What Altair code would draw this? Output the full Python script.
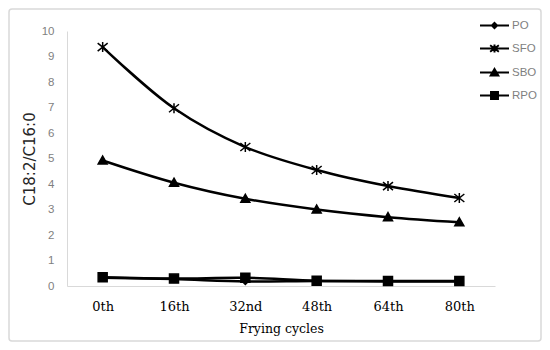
import altair as alt
import pandas as pd

cycles = ["0th", "16th", "32nd", "48th", "64th", "80th"]
series = ["PO", "SFO", "SBO", "RPO"]
po = [0.32, 0.27, 0.18, 0.20, 0.18, 0.18]
sfo = [9.37, 6.97, 5.45, 4.55, 3.92, 3.45]
sbo = [4.92, 4.05, 3.42, 3.00, 2.70, 2.50]
rpo = [0.34, 0.29, 0.32, 0.21, 0.20, 0.20]

rows = []
for name, vals in zip(series, [po, sfo, sbo, rpo]):
    for c, v in zip(cycles, vals):
        rows.append({"cycle": c, "series": name, "value": v})
df = pd.DataFrame(rows)

marker_paths = [
    "M0,-0.6L0.6,0L0,0.6L-0.6,0Z",
    "M-1,-0.8L1,0.8M-1,0.8L1,-0.8M0,-1L0,1",
    "M0,-0.9L0.9,0.7L-0.9,0.7Z",
    "M-0.9,-0.9H0.9V0.9H-0.9Z",
]
legend_paths = [
    "M-1,0H1M0,-0.18L0.18,0L0,0.18L-0.18,0ZM-0.1,-0.08H0.1M-0.1,0.08H0.1",
    "M-1,0H1M-0.3,-0.22L0.3,0.22M-0.3,0.22L0.3,-0.22M0,-0.28L0,0.28",
    "M-1,0H1M0,-0.24L0.26,0.2L-0.26,0.2ZM-0.07,-0.12H0.07M-0.13,-0.02H0.13M-0.19,0.09H0.19",
    "M-1,0H1M-0.24,-0.24H0.24V0.24H-0.24ZM-0.24,-0.12H0.24M-0.24,0.12H0.24",
]

x_enc = alt.X("cycle:O", sort=cycles, title="Frying cycles",
              axis=alt.Axis(labelAngle=0, labelFont="DejaVu Serif", labelFontSize=13,
                            labelColor="#000000", labelPadding=14,
                            titleFont="DejaVu Serif", titleFontSize=12.5,
                            titleFontWeight="normal", titleColor="#000000", titlePadding=9,
                            domainColor="#d9d9d9", ticks=False),
              scale=alt.Scale(paddingInner=0, paddingOuter=0.5))
y_enc = alt.Y("value:Q", title="C18:2/C16:0",
              scale=alt.Scale(domain=[0, 10]),
              axis=alt.Axis(values=list(range(0, 11)), labelFont="Liberation Sans",
                            labelFontSize=11.5, labelColor="#7f7f7f", labelPadding=13,
                            grid=False, ticks=False, domainColor="#d9d9d9",
                            titleFont="DejaVu Sans", titleFontSize=15,
                            titleFontWeight="normal", titleColor="#262626", titlePadding=4))

border = alt.Chart(pd.DataFrame({"a": [0]})).mark_rect(
    fillOpacity=0, stroke="#d9d9d9", strokeWidth=1.5, cornerRadius=3, clip=False
).encode(x=alt.value(-58), x2=alt.value(474), y=alt.value(-22), y2=alt.value(310))

base = alt.Chart(df)
lines = base.mark_line(color="black", strokeWidth=2.5, interpolate="catmull-rom").encode(
    x=x_enc, y=y_enc, detail="series:N")
points = base.mark_point(filled=True, fill="black", stroke="black", strokeWidth=1.5,
                         size=100, opacity=1).encode(
    x=x_enc, y=y_enc,
    shape=alt.Shape("series:N", scale=alt.Scale(domain=series, range=marker_paths), legend=None))
leg = base.mark_point(filled=False, color="black", strokeWidth=2,
                      size=841, opacity=0).encode(
    x=x_enc, y=y_enc,
    shape=alt.Shape("series:N", scale=alt.Scale(domain=series, range=legend_paths),
                    legend=alt.Legend(title=None, orient="none", legendX=412, legendY=-21,
                                      symbolSize=841, symbolOpacity=1,
                                      symbolFillColor="black", symbolStrokeColor="black",
                                      symbolStrokeWidth=2, labelFont="Liberation Sans",
                                      labelFontSize=11.5, labelColor="#7f7f7f",
                                      labelOffset=2, rowPadding=-5, padding=0)))

chart = alt.layer(border, lines, points, leg).resolve_scale(shape="independent").properties(
    width=428, height=255,
    autosize=alt.AutoSizeParams(type="none"),
    padding={"left": 59, "top": 23, "right": 47, "bottom": 56},
).configure_view(stroke=None)

chart.save("out.html", embed_options={"renderer": "svg", "actions": False})
